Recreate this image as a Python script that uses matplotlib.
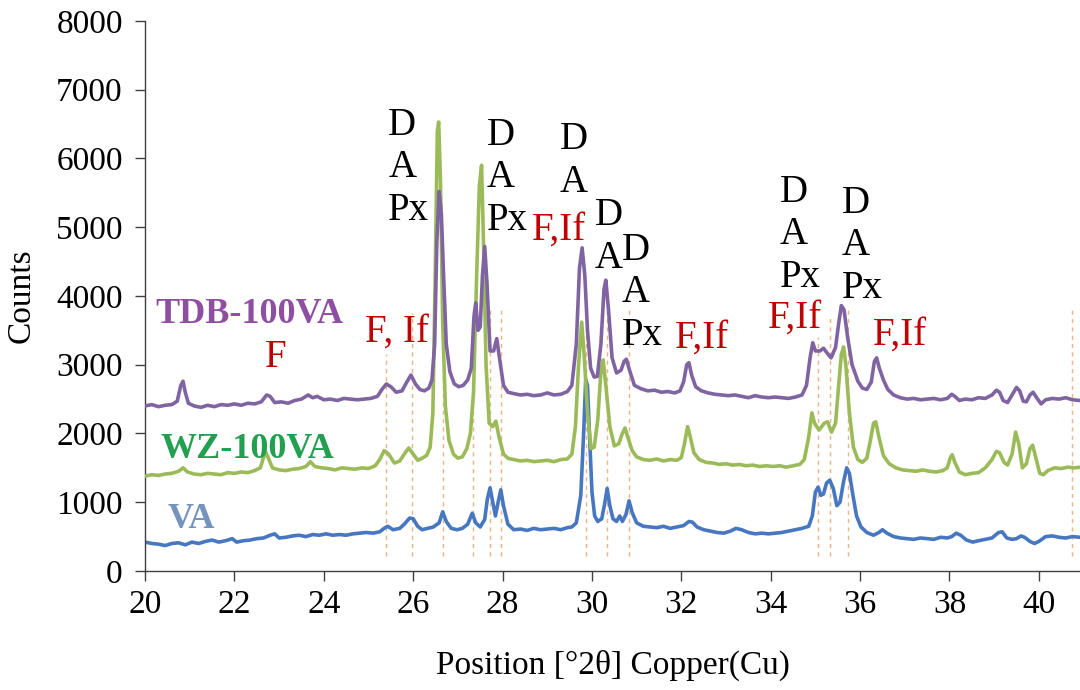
import matplotlib

matplotlib.use("Agg")
import matplotlib.pyplot as plt

# values (2theta in degrees, counts)
tdb_2theta = [
    20.00, 20.15, 20.30, 20.45, 20.60, 20.72, 20.80, 20.85, 20.90, 20.97,
    21.10, 21.25, 21.40, 21.55, 21.70, 21.85, 22.00, 22.15, 22.30, 22.45,
    22.60, 22.72, 22.80, 22.90, 23.05, 23.20, 23.35, 23.50, 23.65, 23.75,
    23.85, 24.00, 24.15, 24.30, 24.45, 24.60, 24.75, 24.90, 25.05, 25.20,
    25.30, 25.40, 25.50, 25.62, 25.75, 25.85, 25.95, 26.05, 26.15, 26.25,
    26.35, 26.42, 26.48, 26.53, 26.58, 26.63, 26.68, 26.74, 26.82, 26.92,
    27.02, 27.12, 27.22, 27.30, 27.36, 27.40, 27.45, 27.50, 27.55, 27.60,
    27.65, 27.72, 27.80, 27.87, 27.93, 28.02, 28.12, 28.25, 28.40, 28.55,
    28.70, 28.85, 29.00, 29.15, 29.30, 29.45, 29.55, 29.65, 29.72, 29.78,
    29.84, 29.90, 29.97, 30.05, 30.12, 30.20, 30.27, 30.31, 30.37, 30.45,
    30.55, 30.65, 30.72, 30.77, 30.85, 30.95, 31.10, 31.25, 31.40, 31.55,
    31.70, 31.85, 31.97, 32.05, 32.12, 32.17, 32.23, 32.32, 32.45, 32.60,
    32.75, 32.90, 33.05, 33.20, 33.35, 33.50, 33.65, 33.80, 33.95, 34.10,
    34.25, 34.40, 34.55, 34.70, 34.80, 34.88, 34.94, 35.00, 35.10, 35.18,
    35.25, 35.35, 35.45, 35.52, 35.58, 35.64, 35.72, 35.82, 35.95, 36.05,
    36.15, 36.25, 36.32, 36.37, 36.43, 36.52, 36.62, 36.75, 36.90, 37.05,
    37.20, 37.35, 37.50, 37.65, 37.80, 37.95, 38.05, 38.12, 38.22, 38.35,
    38.50, 38.65, 38.80, 38.95, 39.05, 39.12, 39.20, 39.30, 39.40, 39.50,
    39.57, 39.65, 39.72, 39.80, 39.87, 39.95, 40.05, 40.15, 40.30, 40.45,
    40.60, 40.75, 40.92,
]
tdb_counts = [
    2400, 2420, 2390, 2410, 2420, 2470, 2700, 2760, 2600, 2440,
    2400, 2380, 2410, 2390, 2420, 2410, 2430, 2410, 2440, 2430,
    2460, 2560, 2540, 2450, 2460, 2440, 2480, 2500, 2560, 2520,
    2540, 2490, 2500, 2480, 2510, 2500, 2490, 2500, 2510, 2540,
    2640, 2720, 2680, 2600, 2620, 2740, 2850, 2720, 2640, 2620,
    2660, 2780, 3300, 4800, 5520, 5200, 4300, 3300, 2900, 2720,
    2680, 2700, 2780, 2950, 3700, 3900, 3500, 3550, 4300, 4720,
    4200, 3200, 3200, 3380, 3100, 2700, 2600, 2580, 2560, 2570,
    2550, 2560, 2590, 2560, 2570, 2610, 2700, 3300, 4400, 4700,
    4300, 3500, 2950, 2820, 2830, 3300, 4100, 4230, 3800, 3100,
    2880, 2920, 3050, 3080, 2900, 2700, 2650, 2620, 2630, 2600,
    2610, 2590, 2620, 2750, 3000, 3030, 2850, 2680, 2620, 2590,
    2570, 2560, 2550, 2560, 2540, 2520, 2550, 2530, 2520, 2530,
    2520, 2510, 2530, 2560, 2700, 3100, 3320, 3200, 3200, 3240,
    3180, 3100, 3250, 3600, 3860, 3800, 3400, 3000, 2760, 2660,
    2640, 2750, 3050, 3100, 2950, 2780, 2640, 2560, 2520, 2500,
    2510, 2490, 2500, 2510, 2490, 2510, 2570, 2540, 2480, 2500,
    2490, 2520, 2510, 2560, 2630, 2600, 2480, 2450, 2560, 2670,
    2620, 2470, 2460, 2560, 2600, 2520, 2430, 2490, 2510, 2500,
    2520, 2490, 2480,
]

wz_2theta = [
    20.00, 20.15, 20.30, 20.45, 20.60, 20.75, 20.85, 20.95, 21.10, 21.25,
    21.40, 21.55, 21.70, 21.85, 22.00, 22.15, 22.30, 22.45, 22.58, 22.65,
    22.70, 22.76, 22.85, 23.00, 23.15, 23.30, 23.45, 23.60, 23.70, 23.80,
    23.95, 24.10, 24.25, 24.40, 24.55, 24.70, 24.85, 25.00, 25.15, 25.25,
    25.35, 25.45, 25.58, 25.70, 25.80, 25.90, 26.00, 26.10, 26.20, 26.30,
    26.38, 26.44, 26.49, 26.54, 26.57, 26.61, 26.66, 26.72, 26.80, 26.90,
    27.00, 27.10, 27.20, 27.28, 27.35, 27.42, 27.48, 27.53, 27.58, 27.63,
    27.70, 27.78, 27.85, 27.92, 28.02, 28.12, 28.25, 28.40, 28.55, 28.70,
    28.85, 29.00, 29.15, 29.30, 29.45, 29.55, 29.63, 29.70, 29.77, 29.83,
    29.90, 29.98, 30.05, 30.13, 30.20, 30.25, 30.31, 30.40, 30.50, 30.60,
    30.68, 30.74, 30.80, 30.90, 31.00, 31.15, 31.30, 31.45, 31.60, 31.75,
    31.90, 32.00, 32.07, 32.14, 32.20, 32.28, 32.40, 32.55, 32.70, 32.85,
    33.00, 33.15, 33.30, 33.45, 33.60, 33.75, 33.90, 34.05, 34.20, 34.35,
    34.50, 34.65, 34.75, 34.85, 34.92, 34.98, 35.08, 35.20, 35.27, 35.36,
    35.45, 35.52, 35.58, 35.63, 35.68, 35.76, 35.85, 35.95, 36.05, 36.15,
    36.23, 36.30, 36.35, 36.42, 36.52, 36.65, 36.80, 36.95, 37.10, 37.25,
    37.40, 37.55, 37.70, 37.85, 37.95, 38.02, 38.06, 38.12, 38.22, 38.35,
    38.50, 38.65, 38.80, 38.95, 39.05, 39.12, 39.22, 39.30, 39.40, 39.48,
    39.55, 39.63, 39.72, 39.80, 39.86, 39.93, 40.02, 40.10, 40.20, 40.35,
    40.50, 40.65, 40.80, 40.92,
]
wz_counts = [
    1380, 1400, 1390, 1410, 1420, 1450, 1500, 1440, 1410, 1400,
    1420, 1410, 1400, 1430, 1420, 1440, 1430, 1460, 1500, 1650,
    1730, 1640, 1500, 1470, 1460, 1480, 1490, 1520, 1590, 1520,
    1500, 1490, 1470, 1500, 1490, 1480, 1500, 1490, 1530, 1620,
    1750, 1700, 1570, 1600, 1700, 1790, 1700, 1610, 1640, 1680,
    1800, 2300, 4200, 6400, 6530, 5700, 3600, 2400, 1900, 1700,
    1640, 1660, 1780, 2000, 2600, 4300, 5600, 5900, 4600, 3000,
    2150, 2100, 2180, 1950, 1700, 1640, 1620, 1600, 1610, 1590,
    1600, 1610, 1590, 1620, 1630, 1700, 2100, 3000, 3620, 3100,
    2300, 1780, 1800, 2200, 2900, 3070, 2700, 2100, 1820, 1850,
    2000, 2080, 1950, 1750, 1660, 1620, 1610, 1630, 1600, 1620,
    1610, 1650, 1850, 2100, 1950, 1720, 1620, 1580, 1570, 1550,
    1560, 1540, 1550, 1530, 1540, 1520, 1530, 1520, 1530, 1510,
    1530, 1550, 1620, 1950, 2300, 2150, 2050, 2150, 2170, 2020,
    2150, 2700, 3150, 3260, 3000, 2300, 1800, 1620, 1580, 1640,
    1900, 2150, 2170, 1950, 1680, 1560, 1500, 1470, 1460, 1450,
    1470, 1450, 1440, 1460, 1500, 1650, 1690, 1580, 1440, 1400,
    1420, 1430, 1500, 1620, 1740, 1720, 1580, 1540, 1700, 2020,
    1850, 1500, 1560, 1780, 1830, 1650, 1420, 1400, 1460, 1500,
    1490, 1510, 1500, 1510,
]

va_2theta = [
    20.00, 20.15, 20.30, 20.45, 20.60, 20.75, 20.90, 21.05, 21.20, 21.35,
    21.50, 21.65, 21.80, 21.95, 22.05, 22.20, 22.35, 22.50, 22.65, 22.80,
    22.90, 23.00, 23.15, 23.30, 23.45, 23.60, 23.75, 23.90, 24.05, 24.20,
    24.35, 24.50, 24.65, 24.80, 24.95, 25.10, 25.25, 25.35, 25.43, 25.55,
    25.70, 25.80, 25.92, 26.00, 26.10, 26.20, 26.32, 26.45, 26.58, 26.66,
    26.74, 26.85, 26.98, 27.10, 27.22, 27.32, 27.40, 27.50, 27.60, 27.66,
    27.72, 27.78, 27.84, 27.90, 27.96, 28.02, 28.12, 28.25, 28.40, 28.55,
    28.70, 28.85, 29.00, 29.15, 29.30, 29.45, 29.55, 29.65, 29.75, 29.82,
    29.86, 29.90, 29.95, 30.00, 30.06, 30.13, 30.22, 30.29, 30.34, 30.40,
    30.47, 30.55, 30.62, 30.68, 30.76, 30.83, 30.90, 31.00, 31.15, 31.30,
    31.45, 31.60, 31.75, 31.90, 32.05, 32.17, 32.25, 32.35, 32.50, 32.65,
    32.80, 32.95, 33.10, 33.22, 33.35, 33.50, 33.65, 33.80, 33.95, 34.10,
    34.25, 34.40, 34.55, 34.70, 34.85, 34.93, 35.00, 35.06, 35.12, 35.18,
    35.25, 35.32, 35.40, 35.48, 35.55, 35.63, 35.70, 35.76, 35.84, 35.92,
    36.02, 36.15, 36.30, 36.42, 36.50, 36.60, 36.75, 36.90, 37.05, 37.20,
    37.35, 37.50, 37.65, 37.80, 37.95, 38.05, 38.15, 38.25, 38.38, 38.52,
    38.65, 38.80, 38.95, 39.10, 39.18, 39.28, 39.40, 39.50, 39.60, 39.68,
    39.80, 39.90, 40.00, 40.15, 40.30, 40.45, 40.60, 40.75, 40.92,
]
va_counts = [
    420, 400, 390, 370, 400, 410, 380, 420, 400, 430,
    450, 420, 440, 470, 420, 440, 450, 470, 480, 520,
    540, 480, 490, 510, 520, 500, 530, 520, 540, 520,
    530, 520, 540, 550, 560, 550, 570, 620, 650, 600,
    620, 680, 770, 760, 650, 600, 620, 640, 700, 860,
    720, 620, 600, 620, 680, 840, 700, 640, 750, 1050,
    1210, 1000, 800, 1000, 1180, 950, 680, 600, 610, 590,
    620, 600, 610, 620, 600, 630, 640, 700, 1100, 2100,
    2780, 2700, 1900, 1150, 800, 720, 760, 1000, 1200, 950,
    760, 720, 800, 720, 820, 1020, 850, 700, 650, 640,
    630, 650, 620, 640, 660, 720, 710, 640, 600, 580,
    560, 550, 580, 620, 600, 560, 540, 550, 540, 550,
    560, 580, 600, 620, 650, 800, 1150, 1220, 1100, 1120,
    1280, 1320, 1200, 950, 1000, 1300, 1500, 1420, 1100, 800,
    640, 560, 520, 560, 600, 550, 500, 480, 470, 460,
    480, 470, 460, 490, 480, 500, 550, 520, 450, 420,
    440, 460, 480, 560, 570, 480, 460, 470, 510, 490,
    430, 400, 430, 500, 510, 490, 480, 500, 490,
]

# reference peak positions marked with dashed lines, and how high each one reaches
ref_2theta = [25.40, 25.97, 26.67, 27.33, 27.72, 27.96, 29.87,
              30.33, 30.83, 35.05, 35.32, 35.73, 40.73]
ref_top = [3150, 3750, 3800, 3800, 3800, 3800, 3800,
           3800, 3800, 3400, 3700, 3800, 3800]

x_ticks = [20, 22, 24, 26, 28, 30, 32, 34, 36, 38, 40]
y_ticks = [0, 1000, 2000, 3000, 4000, 5000, 6000, 7000, 8000]


def main():
    plt.rcParams["font.family"] = ["Liberation Serif", "DejaVu Serif"]

    fig = plt.figure(figsize=(10.8, 6.9), dpi=100)
    ax = fig.add_axes([0.1343, 0.1725, 0.8657, 0.7971])

    ax.vlines(ref_2theta, 220, ref_top, colors="#F4B183", linestyles=(0, (3, 3)),
              linewidth=1.0, zorder=1)

    ax.plot(va_2theta, va_counts, color="#4677C0", linewidth=2.6, zorder=2)
    ax.plot(wz_2theta, wz_counts, color="#9BBB59", linewidth=2.6, zorder=3)
    ax.plot(tdb_2theta, tdb_counts, color="#8064A2", linewidth=2.6, zorder=4)

    # sample names
    ax.text(20.22, 3607, "TDB-100VA", color="#8E4FA3", fontsize=26, fontweight="bold")
    ax.text(20.34, 1644, "WZ-100VA", color="#22A050", fontsize=26, fontweight="bold")
    ax.text(20.51, 625, "VA", color="#7593BE", fontsize=26, fontweight="bold")

    # phase labels (y is the baseline of the last line)
    phase = dict(fontsize=28, color="black", va="baseline", ha="left", linespacing=1.2)
    ax.text(25.44, 5105, "D\nA\nPx", **phase)
    ax.text(27.65, 4960, "D\nA\nPx", **phase)
    ax.text(29.28, 5513, "D\nA", **phase)
    ax.text(30.07, 4407, "D\nA", **phase)
    ax.text(30.67, 3287, "D\nA\nPx", **phase)
    ax.text(34.21, 4131, "D\nA\nPx", **phase)
    ax.text(35.59, 3971, "D\nA\nPx", **phase)

    red = dict(fontsize=28, color="#C00000", va="baseline", ha="left")
    ax.text(22.68, 2967, "F", **red)
    ax.text(24.92, 3330, "F, If", **red)
    ax.text(28.66, 4815, "F,If", **red)
    ax.text(31.86, 3243, "F,If", **red)
    ax.text(33.94, 3535, "F,If", **red)
    ax.text(36.29, 3287, "F,If", **red)

    ax.set_xlim(20, 40.92)
    ax.set_ylim(0, 8000)
    ax.set_xticks(x_ticks)
    ax.set_yticks(y_ticks)

    for side in ["top", "right"]:
        ax.spines[side].set_visible(False)
    for side in ["left", "bottom"]:
        ax.spines[side].set_color("#404040")
        ax.spines[side].set_linewidth(1.0)
    ax.tick_params(direction="out", length=7, width=1.0, color="#404040",
                   labelsize=24)
    ax.tick_params(axis="x", pad=6)
    ax.tick_params(axis="y", pad=9)

    ax.set_xlabel("Position [°2θ] Copper(Cu)", fontsize=24, labelpad=22)
    ax.set_ylabel("Counts", fontsize=24, labelpad=14)

    fig.savefig("out.png", dpi=100)
    plt.close(fig)


if __name__ == "__main__":
    main()
